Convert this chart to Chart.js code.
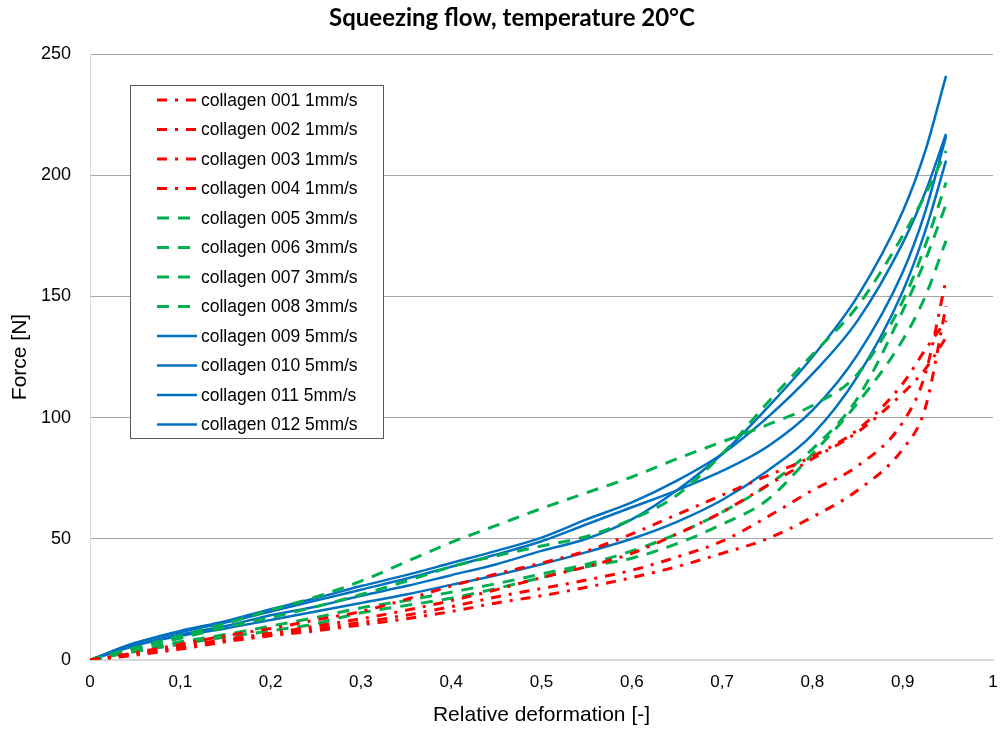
<!DOCTYPE html>
<html>
<head>
<meta charset="utf-8">
<title>Squeezing flow</title>
<script src="https://cdn.jsdelivr.net/npm/chart.js@4.4.1/dist/chart.umd.min.js"></script>
<style>
  html, body { margin: 0; padding: 0; background: #fff; }
  #wrap { width: 1003px; height: 731px; }
</style>
</head>
<body>
<div id="wrap"><canvas id="chart" width="1003" height="731"></canvas></div>
<script>
// relative deformation sample points (shared by all runs)
const deformation = [0, 0.05, 0.1, 0.15, 0.2, 0.25, 0.3, 0.35, 0.4, 0.45, 0.5, 0.55, 0.6, 0.65, 0.7, 0.75, 0.8, 0.85, 0.9, 0.925, 0.948];

// force [N]
const c001 = [0, 3, 6.5, 10, 13, 16.5, 20, 25, 30.5, 35.5, 40, 45, 52, 60, 68, 76, 84, 95, 114, 128, 140];
const c002 = [0, 2.5, 5.5, 8.5, 11, 14, 17, 20.5, 24.5, 29, 34, 38.5, 44, 52, 61, 72, 83, 94, 110, 120, 133];
const c003 = [0, 2.5, 5, 8, 10.5, 13, 15.5, 18.5, 22, 26, 29.5, 33, 37, 42.5, 49, 59, 70, 80, 98, 118, 157];
const c004 = [0, 2, 4.5, 7.5, 10, 12, 14.5, 17, 20, 23.5, 26.5, 30, 34, 38.5, 44, 50, 59, 70, 87, 104, 146];
const c005 = [0, 5, 10, 15, 20.5, 26, 32.5, 40.5, 48.5, 55.5, 62.5, 69, 75.5, 83, 90, 97, 105, 118, 148, 171, 197];
const c006 = [0, 5, 9, 13.5, 17.5, 22, 27, 32.5, 38.5, 43, 47, 51, 58, 68, 85, 106, 126, 146, 175, 192, 210];
const c007 = [0, 4, 7.5, 10.5, 14, 17.5, 21.5, 24.5, 28, 31.5, 35.5, 39.5, 45, 52, 61, 72, 87, 108, 144, 165, 188];
const c008 = [0, 3.5, 6.5, 9.5, 12, 15, 19.5, 22.5, 25.5, 29.5, 34, 38.5, 42, 48, 56, 66, 85, 106, 132, 150, 173];
const c009 = [0, 6, 10.5, 14, 18.5, 22, 26.5, 30.5, 35, 39.5, 45, 50, 58, 70, 85, 104, 125, 150, 185, 210, 241];
const c010 = [0, 7, 12, 16, 21, 25.5, 30.5, 35, 40, 45, 50.5, 58, 65, 74, 85, 100, 118, 140, 172, 193, 217];
const c011 = [0, 7, 11.5, 15.5, 20, 24.5, 29, 33.5, 38.5, 43.5, 49, 56, 63, 70, 78, 88, 103, 126, 160, 185, 216];
const c012 = [0, 6, 10, 13, 16.5, 20, 23.5, 27, 31, 35, 39.5, 44.5, 50, 57, 66, 78, 93, 117, 152, 177, 206];

const seriesNames = [
  "collagen 001 1mm/s", "collagen 002 1mm/s", "collagen 003 1mm/s", "collagen 004 1mm/s",
  "collagen 005 3mm/s", "collagen 006 3mm/s", "collagen 007 3mm/s", "collagen 008 3mm/s",
  "collagen 009 5mm/s", "collagen 010 5mm/s", "collagen 011 5mm/s", "collagen 012 5mm/s"
];
const seriesValues = [c001, c002, c003, c004, c005, c006, c007, c008, c009, c010, c011, c012];

const xTicks = [0, 0.1, 0.2, 0.3, 0.4, 0.5, 0.6, 0.7, 0.8, 0.9, 1];
const yTicks = [0, 50, 100, 150, 200, 250];

const chartTitle = "Squeezing flow, temperature 20°C";

// line look per speed
const RED = "#ff0000", GREEN = "#00b050", BLUE = "#0070c0";
function styleFor(i) {
  if (i < 4) return { color: RED, width: 3, dash: [10, 8, 3, 8] };
  if (i < 8) return { color: GREEN, width: 3, dash: [12, 9] };
  return { color: BLUE, width: 2.5, dash: [] };
}

const datasets = seriesNames.map((name, i) => {
  const s = styleFor(i);
  return {
    label: name,
    data: deformation.map((x, k) => ({ x: x, y: seriesValues[i][k] })),
    borderColor: s.color,
    borderWidth: s.width,
    borderDash: s.dash,
    pointRadius: 0,
    fill: false,
    cubicInterpolationMode: "monotone",
  };
});

// legend box inside the plot + title, like the original
const boxLegend = {
  id: "boxLegend",
  afterDatasetsDraw(chart) {
    const ctx = chart.ctx;
    const x0 = 130, y0 = 85, w = 253, h = 353, step = 29.5;
    ctx.save();
    ctx.fillStyle = "#fff";
    ctx.fillRect(x0, y0, w, h);
    ctx.strokeStyle = "#595959";
    ctx.lineWidth = 1;
    ctx.strokeRect(x0 + 0.5, y0 + 0.5, w, h);
    chart.data.datasets.forEach((ds, i) => {
      const y = y0 + 15 + i * step;
      ctx.beginPath();
      ctx.strokeStyle = ds.borderColor;
      ctx.lineWidth = ds.borderWidth;
      ctx.setLineDash(ds.borderDash);
      ctx.moveTo(157, y);
      ctx.lineTo(197, y);
      ctx.stroke();
      ctx.setLineDash([]);
      ctx.fillStyle = "#000";
      ctx.font = "17.5px 'Liberation Sans', Arial, sans-serif";
      ctx.textBaseline = "middle";
      ctx.fillText(ds.label, 201, y + 1);
    });
    // title
    ctx.font = "bold 24px Lato, 'Open Sans', sans-serif";
    ctx.textAlign = "center";
    ctx.textBaseline = "middle";
    ctx.fillText(chartTitle, 512, 18);
    ctx.restore();
  }
};

new Chart(document.getElementById("chart"), {
  type: "line",
  data: { datasets: datasets },
  plugins: [boxLegend],
  options: {
    responsive: false,
    animation: false,
    layout: { padding: { left: 0, right: 10, top: 54, bottom: 0 } },
    plugins: {
      legend: { display: false },
      tooltip: { enabled: false },
      title: { display: false },
    },
    scales: {
      x: {
        type: "linear",
        min: 0,
        max: 1,
        afterFit: (scale) => { scale.height = 71; scale.paddingRight = 0; scale.paddingLeft = 0; },
        afterBuildTicks: (scale) => {
          scale.ticks = xTicks.map(v => ({ value: v }));
        },
        ticks: {
          padding: 12,
          color: "#000",
          font: { family: "'Liberation Sans', Arial, sans-serif", size: 17 },
          callback: (v) => (v === 0 || v === 1) ? String(v) : v.toFixed(1).replace(".", ","),
          maxRotation: 0,
          autoSkip: false,
        },
        grid: { display: false, drawTicks: false },
        border: { display: true, color: "#d9d9d9", width: 2 },
        title: {
          display: true,
          text: "Relative deformation [-]",
          color: "#000",
          font: { family: "'Liberation Sans', Arial, sans-serif", size: 21 },
          padding: { top: 0, bottom: 3 },
        },
      },
      y: {
        min: 0,
        max: 250,
        afterFit: (scale) => { scale.width = 90; },
        afterBuildTicks: (scale) => {
          scale.ticks = yTicks.map(v => ({ value: v }));
        },
        ticks: {
          padding: 19,
          color: "#000",
          font: { family: "'Liberation Sans', Arial, sans-serif", size: 18 },
        },
        grid: {
          drawTicks: false,
          color: (c) => c.tick && c.tick.value === 0 ? "rgba(0,0,0,0)" : "#a6a6a6",
          lineWidth: 1,
        },
        border: { display: true, color: "#d9d9d9", width: 1 },
        title: {
          display: true,
          text: "Force [N]",
          color: "#000",
          font: { family: "'Liberation Sans', Arial, sans-serif", size: 21 },
          padding: { top: 8, bottom: 0 },
        },
      },
    },
  },
});
</script>
</body>
</html>
